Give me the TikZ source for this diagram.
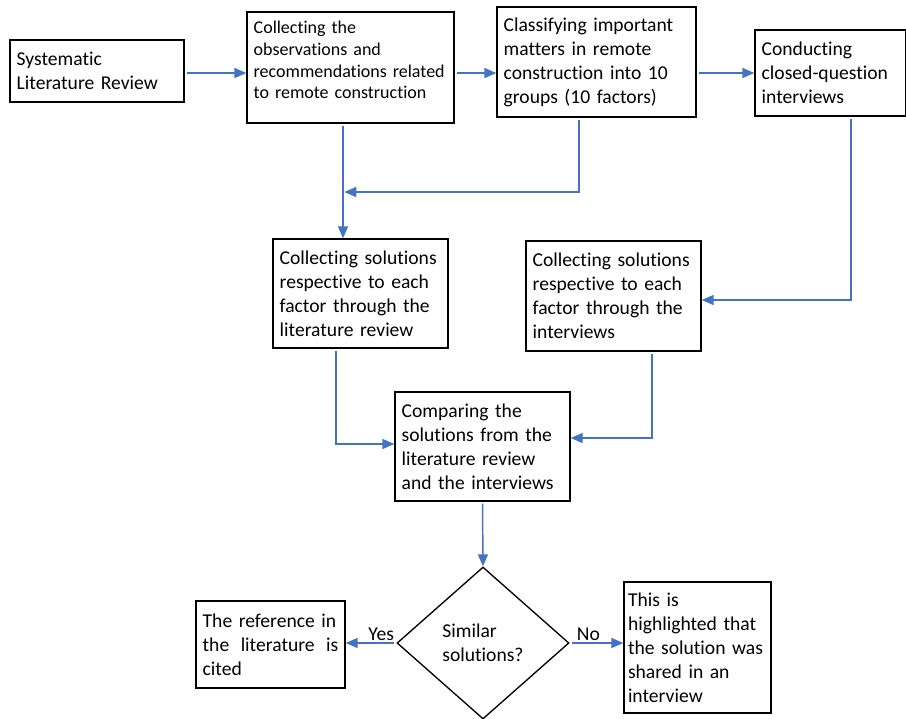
\documentclass[tikz,border=0pt]{standalone}
\usepackage{fontspec}
\setmainfont{Carlito}[Ligatures={NoCommon,NoContextual}]
\usetikzlibrary{arrows.meta,shapes.geometric}
\definecolor{flowblue}{RGB}{68,114,196}
\begin{document}
\begin{tikzpicture}[x=0.75pt,y=-0.75pt,
  box/.style={draw,line width=1pt,rectangle,inner xsep=5pt,inner ysep=2pt,align=left,font=\fontsize{14.7pt}{18pt}\selectfont},
  flow/.style={draw=flowblue,line width=1.1pt,shorten <=1.5pt,-{Triangle[length=9pt,width=7.5pt]}},
  lbl/.style={font=\fontsize{14.7pt}{18pt}\selectfont,inner sep=1pt}]
\useasboundingbox (0,0) rectangle (906,718);
\node[box,minimum width=130.5pt,minimum height=46.5pt,text width=120.5pt] (sysrev) at (97,71) {Systematic\\Literature Review};
\node[box,minimum width=155.25pt,minimum height=83.25pt,text width=145.25pt,text depth=60pt,font=\fontsize{13.5pt}{16.3pt}\selectfont] (collobs) at (350.5,67.5) {Collecting the\\observations and\\recommendations related\\to remote construction};
\node[box,minimum width=149.25pt,minimum height=82.5pt,text width=139.25pt] (classify) at (596.5,62) {Classifying important\\matters in remote\\construction into 10\\groups (10 factors)};
\node[box,minimum width=113.25pt,minimum height=64.5pt,text width=103.25pt] (interv) at (830.5,73) {Conducting\\closed-question\\interviews};
\node[box,minimum width=131.25pt,minimum height=81.75pt,text width=121.25pt] (litsol) at (360.5,293.5) {Collecting solutions\\respective to each\\factor through the\\literature review};
\node[box,minimum width=131.25pt,minimum height=82.5pt,text width=121.25pt] (intsol) at (613.5,296) {Collecting solutions\\respective to each\\factor through the\\interviews};
\node[box,minimum width=131.25pt,minimum height=81.75pt,text width=121.25pt] (compare) at (482.5,446.5) {Comparing the\\solutions from the\\literature review\\and the interviews};
\node[draw,diamond,line width=1pt,minimum width=129pt,minimum height=114pt,inner sep=0pt,align=left,font=\fontsize{14.7pt}{18pt}\selectfont] (similar) at (483,643) {Similar\\solutions?};
\node[box,minimum width=111.75pt,minimum height=65.25pt,text width=101.75pt] (cited) at (270.5,644.5) {The reference in\\the\hfill literature\hfill is\\cited};
\node[box,inner xsep=3pt,minimum width=110.25pt,minimum height=98.25pt,text width=104.25pt] (shared) at (697.5,647.5) {This is\\highlighted that\\the solution was\\shared in an\\interview};
\coordinate (ytop) at (0,73);
\coordinate (j1) at (343,192);
\coordinate (e1) at (579,192);
\coordinate (e2) at (851,300);
\coordinate (e3) at (336,444);
\coordinate (e4) at (652,438);
\draw[flow] (sysrev.east |- ytop) -- (collobs.west |- ytop);
\draw[flow] (collobs.east |- ytop) -- (classify.west |- ytop);
\draw[flow] (classify.east |- ytop) -- (interv.west |- ytop);
\draw[flow] (collobs.south -| j1) -- (litsol.north -| j1);
\draw[flow,shorten >=1pt] (classify.south -| e1) |- (j1);
\draw[flow] (interv.south -| e2) |- (intsol.east |- e2);
\draw[flow] (litsol.south -| e3) |- (compare.west |- e3);
\draw[flow] (intsol.south -| e4) |- (compare.east |- e4);
\draw[flow] (compare.south) -- (similar.north);
\draw[flow] (similar.west) -- (cited.east |- similar.west) node[lbl,pos=0.3,above] (yes) {Yes};
\draw[flow] (similar.east) -- (shared.west |- similar.east) node[lbl,pos=0.35,above] (no) {No};
\end{tikzpicture}
\end{document}
